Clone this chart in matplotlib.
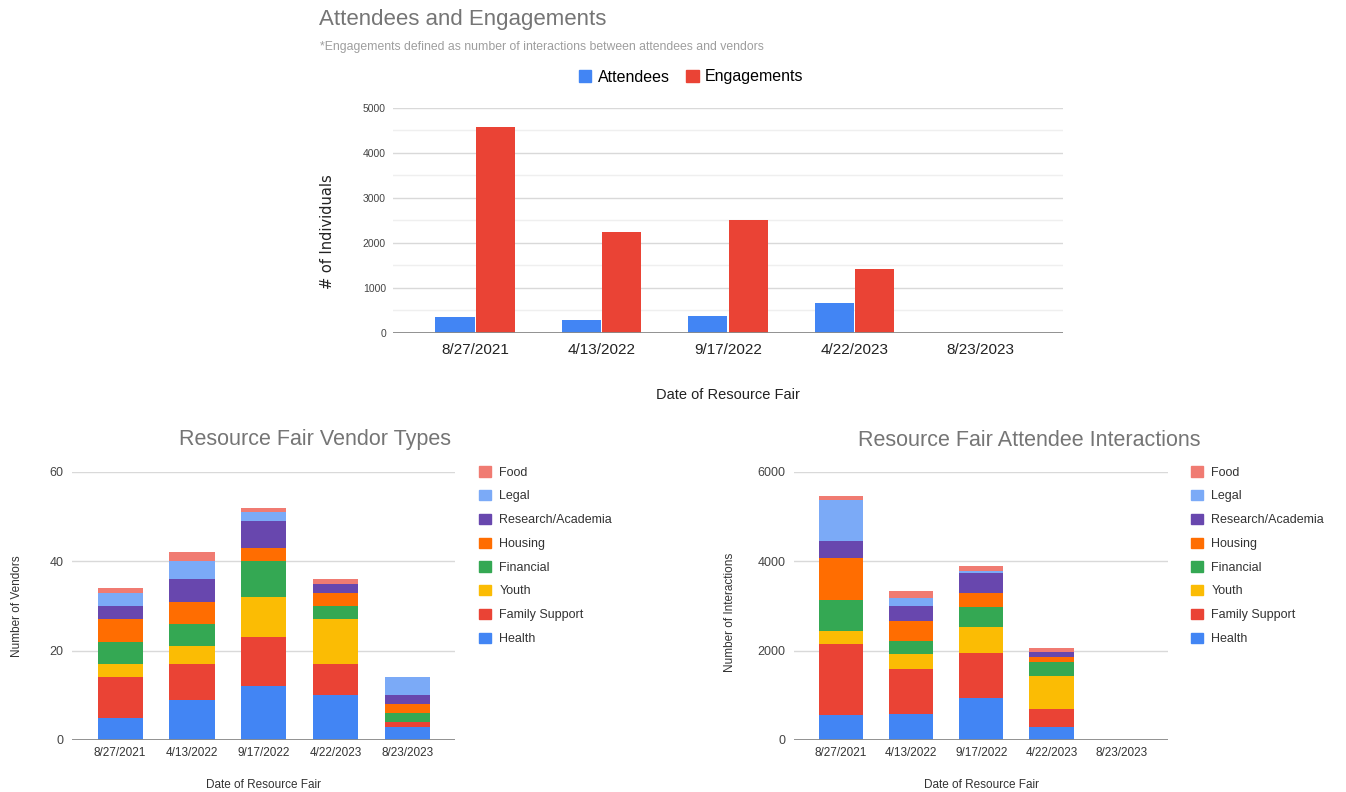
import numpy as np
import matplotlib.pyplot as plt
from matplotlib.patches import Patch

plt.rcParams['font.family'] = ['Liberation Sans', 'DejaVu Sans']

dates = ["8/27/2021", "4/13/2022", "9/17/2022", "4/22/2023", "8/23/2023"]

# top chart
attendees = [360, 290, 380, 675, 0]
engagements = [4580, 2250, 2500, 1415, 0]

# stacked charts, bottom to top
categories = ["Health", "Family Support", "Youth", "Financial", "Housing",
              "Research/Academia", "Legal", "Food"]
colors = ["#4285F4", "#EA4335", "#FBBC04", "#34A853", "#FF6D01",
          "#6847AE", "#7BAAF7", "#F07B72"]

vendors = {
    "Health":            [5, 9, 12, 10, 3],
    "Family Support":    [9, 8, 11, 7, 1],
    "Youth":             [3, 4, 9, 10, 0],
    "Financial":         [5, 5, 8, 3, 2],
    "Housing":           [5, 5, 3, 3, 2],
    "Research/Academia": [3, 5, 6, 2, 2],
    "Legal":             [3, 4, 2, 0, 4],
    "Food":              [1, 2, 1, 1, 0],
}

interactions = {
    "Health":            [560, 580, 930, 290, 0],
    "Family Support":    [1580, 1005, 1015, 395, 0],
    "Youth":             [305, 350, 580, 750, 0],
    "Financial":         [685, 290, 455, 315, 0],
    "Housing":           [945, 450, 320, 105, 0],
    "Research/Academia": [390, 335, 450, 105, 0],
    "Legal":             [900, 170, 35, 0, 0],
    "Food":              [100, 165, 110, 105, 0],
}

W, H = 1346, 792
fig = plt.figure(figsize=(W / 100, H / 100), dpi=100)


def fx(x):
    return x / W


def fy(y):
    return 1 - y / H


def axes_px(x0, x1, ytop, ybot):
    return fig.add_axes([fx(x0), fy(ybot), (x1 - x0) / W, (ybot - ytop) / H])


def style(ax, tick_size, tick_color="#444444", pad_x=6, pad_y=5):
    for s in ax.spines.values():
        s.set_visible(False)
    ax.tick_params(length=0, labelsize=tick_size, colors=tick_color)
    ax.tick_params(axis="x", pad=pad_x)
    ax.tick_params(axis="y", pad=pad_y)
    ax.set_axisbelow(True)


# ---- top chart
ax = axes_px(393, 1063, 108, 333)
x = np.arange(len(dates))
ax.bar(x - 0.16, attendees, 0.31, color="#4285F4", label="Attendees")
ax.bar(x + 0.16, engagements, 0.31, color="#EA4335", label="Engagements")
ax.set_xlim(-0.65, 4.65)
ax.set_ylim(0, 5000)
ax.set_yticks([0, 1000, 2000, 3000, 4000, 5000])
ax.set_yticks(np.arange(500, 5000, 1000), minor=True)
ax.grid(axis="y", which="major", color="#d9d9d9", lw=1)
ax.grid(axis="y", which="minor", color="#efefef", lw=1)
ax.tick_params(which="minor", length=0)
ax.axhline(0, color="#8a8a8a", lw=1.3)
ax.set_xticks(x, dates)
style(ax, 7.5, pad_x=7)
ax.tick_params(axis="x", labelsize=11, colors="#222222")
fig.text(fx(327), fy(232), "# of Individuals", rotation=90, ha="center",
         va="center", fontsize=10.5, color="#222222", family="DejaVu Sans")
fig.text(fx(728), fy(395), "Date of Resource Fair", ha="center", va="center",
         fontsize=10.5, color="#222222")
fig.text(fx(319), fy(19), "Attendees and Engagements", ha="left", va="center",
         fontsize=16, color="#757575")
fig.text(fx(320), fy(47),
         "*Engagements defined as number of interactions between attendees and vendors",
         ha="left", va="center", fontsize=8.8, color="#9e9e9e")
fig.legend(handles=[Patch(color="#4285F4", label="Attendees"),
                    Patch(color="#EA4335", label="Engagements")],
           loc="center", bbox_to_anchor=(fx(691), fy(77)), ncol=2,
           frameon=False, fontsize=11.5, handlelength=0.8, handleheight=0.8,
           handletextpad=0.4, columnspacing=1.0)


def stacked(ax, data, ylim, yticks):
    bottom = np.zeros(len(dates))
    handles = []
    for cat, col in zip(categories, colors):
        vals = np.array(data[cat], dtype=float)
        ax.bar(np.arange(len(dates)), vals, 0.63, bottom=bottom, color=col)
        bottom += vals
        handles.append(Patch(color=col, label=cat))
    ax.set_xlim(-0.67, 4.66)
    ax.set_ylim(*ylim)
    ax.set_yticks(yticks)
    ax.grid(axis="y", color="#d9d9d9", lw=1)
    ax.axhline(0, color="#8a8a8a", lw=1.3)
    ax.set_xticks(np.arange(len(dates)), dates)
    style(ax, 9, pad_x=5, pad_y=6)
    ax.tick_params(axis="x", labelsize=8.5, colors="#333333")
    return handles[::-1]


legend_kw = dict(loc="upper left", frameon=False, fontsize=9,
                 handlelength=0.9, handleheight=0.9, handletextpad=0.7,
                 labelspacing=0.9, labelcolor="#333333")

# ---- bottom left
ax1 = axes_px(72, 455, 472, 740)
h1 = stacked(ax1, vendors, (0, 60), [0, 20, 40, 60])
fig.text(fx(315), fy(440), "Resource Fair Vendor Types", ha="center",
         va="center", fontsize=15.5, color="#757575")
fig.text(fx(17), fy(606), "Number of Vendors", rotation=90, ha="center",
         va="center", fontsize=8.5, color="#333333")
fig.text(fx(264), fy(785), "Date of Resource Fair", ha="center", va="center",
         fontsize=8.5, color="#333333")
fig.legend(handles=h1, bbox_to_anchor=(fx(468), fy(455)), **legend_kw)

# ---- bottom right
ax2 = axes_px(794, 1168, 472, 740)
h2 = stacked(ax2, interactions, (0, 6000), [0, 2000, 4000, 6000])
fig.text(fx(1029), fy(440), "Resource Fair Attendee Interactions", ha="center",
         va="center", fontsize=15.5, color="#757575")
fig.text(fx(730), fy(612), "Number of Interactions", rotation=90, ha="center",
         va="center", fontsize=8.5, color="#333333")
fig.text(fx(981), fy(785), "Date of Resource Fair", ha="center", va="center",
         fontsize=8.5, color="#333333")
fig.legend(handles=h2, bbox_to_anchor=(fx(1180), fy(455)), **legend_kw)

fig.savefig("out.png", dpi=100, facecolor="white")
